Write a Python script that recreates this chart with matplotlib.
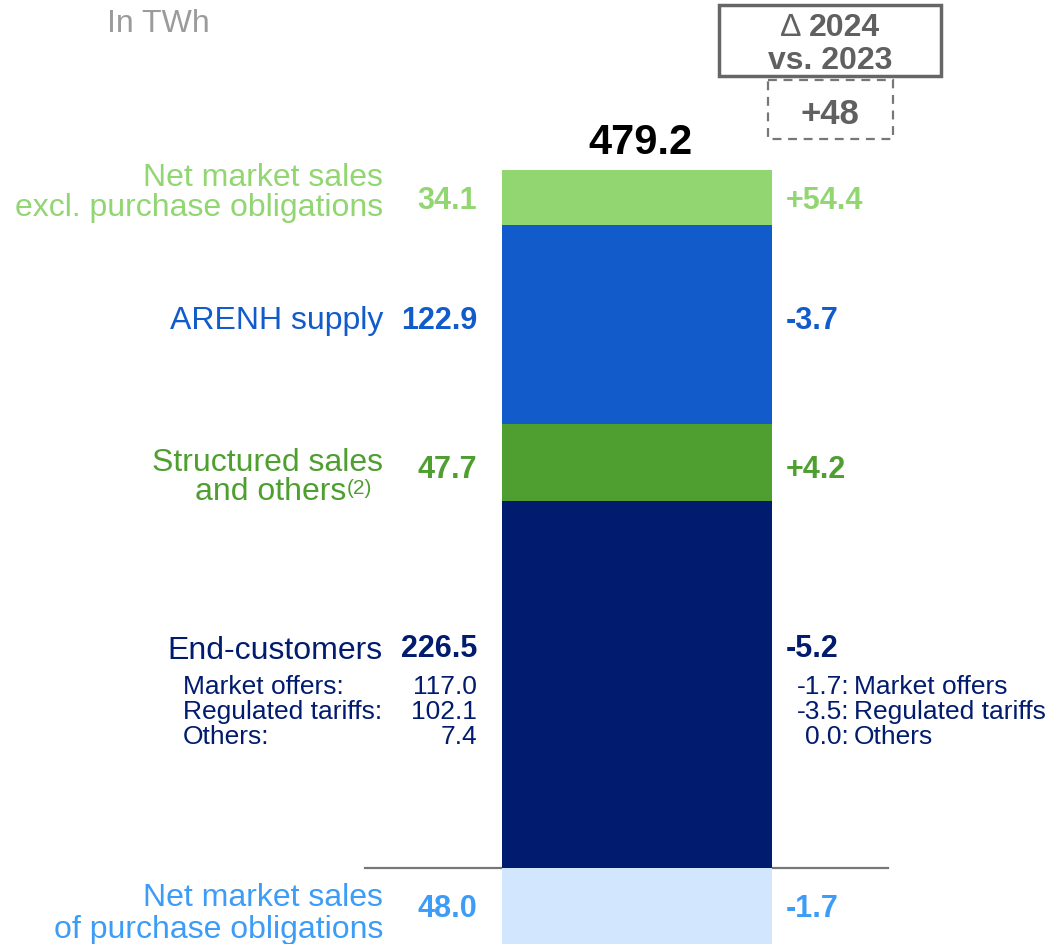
import matplotlib
matplotlib.use("Agg")
import matplotlib.pyplot as plt
from matplotlib.patches import Rectangle

plt.rcParams['font.family'] = ['Liberation Sans', 'DejaVu Sans']

# ---- data (bottom to top of the stacked bar) ----
categories = ["Net market sales\nof purchase obligations", "End-customers",
              "Structured sales\nand others", "ARENH supply",
              "Net market sales\nexcl. purchase obligations"]
footnotes = ["", "", "(2)", "", ""]
values = [48.0, 226.5, 47.7, 122.9, 34.1]
deltas = ["-1.7", "-5.2", "+4.2", "-3.7", "+54.4"]
total = 479.2
total_delta = "+48"
unit_label = "In TWh"
delta_symbol = "\u2206"
delta_header = ["2024", "vs. 2023"]

end_sub_labels = ["Market offers:", "Regulated tariffs:", "Others:"]
end_sub_values = [117.0, 102.1, 7.4]
end_sub_deltas = [-1.7, -3.5, 0.0]
end_sub_names = ["Market offers", "Regulated tariffs", "Others"]

bar_colors = ["#D2E7FD", "#011B6E", "#4E9F30", "#115BCB", "#92D672"]
text_colors = ["#3D9CF6", "#011B6E", "#4E9F30", "#115BCB", "#92D672"]

# ---- figure ----
W, H = 1056, 944
fig = plt.figure(figsize=(W / 100, H / 100), dpi=100)

# data axes: y in TWh; first segment sits below the baseline (0)
scale = 698 / 431.2          # px per TWh
base_px = 868
ax = fig.add_axes([0, 0, 1, 1])
ax.set_xlim(0, W)
ax.set_ylim(-(H - base_px) / scale, base_px / scale)
ax.axis("off")

bottoms = [-values[0]]
for v in values[:-1]:
    bottoms.append(bottoms[-1] + v)
ax.bar([637] * len(values), values, width=270, bottom=bottoms,
       color=bar_colors, linewidth=0, zorder=2)
ax.plot([365, 888], [0, 0], color="#777777", lw=1.6, zorder=1)

# overlay axes in pixel coordinates for annotations
ov = fig.add_axes([0, 0, 1, 1])
ov.set_xlim(0, W)
ov.set_ylim(H, 0)
ov.axis("off")
ov.patch.set_alpha(0)

dy = 3  # compensate matplotlib's bbox-centred alignment

# label positions (pixel y of line centres)
label_y = [(895, 927), (648,), (460, 489), (318,), (175, 205)]
value_y = [906, 646, 467, 318, 198]

for i, cat in enumerate(categories):
    lines = cat.split("\n")
    for ln, y in zip(lines, label_y[i]):
        t = ov.text(383, y + dy, ln, ha="right", va="center", fontsize=23,
                    color=text_colors[i])
    if footnotes[i]:
        t.set_x(346)
        ov.text(347, label_y[i][-1] - 3 + dy, footnotes[i], ha="left",
                va="center", fontsize=15, color=text_colors[i])
    ov.text(477, value_y[i] + dy, f"{values[i]:.1f}", ha="right", va="center",
            fontsize=22, fontweight="bold", color=text_colors[i])
    ov.text(786, value_y[i] + dy, deltas[i], ha="left", va="center",
            fontsize=22, fontweight="bold", color=text_colors[i])

# end-customer breakdown
sub_y = [684, 709, 734]
for lab, val, dv, nm, y in zip(end_sub_labels, end_sub_values, end_sub_deltas,
                               end_sub_names, sub_y):
    ov.text(183, y + dy, lab, ha="left", va="center", fontsize=19,
            color="#011B6E")
    ov.text(477, y + dy, f"{val:.1f}", ha="right", va="center", fontsize=19,
            color="#011B6E")
    ov.text(849, y + dy, f"{dv:.1f}:", ha="right", va="center", fontsize=19,
            color="#011B6E")
    ov.text(854, y + dy, nm, ha="left", va="center", fontsize=19,
            color="#011B6E")

# total
ov.text(640, 140 + dy, f"{total:.1f}", ha="center", va="center", fontsize=30,
        fontweight="bold", color="black")

# unit label
ov.text(107, 21 + dy, unit_label, ha="left", va="center", fontsize=23,
        color="#9B9B9B")

# delta header box
ov.add_patch(Rectangle((719, 5), 222, 71, fill=False, edgecolor="#666666",
                       lw=2.5))
ov.text(801, 25 + dy, delta_symbol, ha="right", va="center", fontsize=23,
        color="#606060")
ov.text(809, 25 + dy, delta_header[0], ha="left", va="center", fontsize=23,
        fontweight="bold", color="#606060")
ov.text(830, 58 + dy, delta_header[1], ha="center", va="center", fontsize=23,
        fontweight="bold", color="#606060")
ov.add_patch(Rectangle((768, 80), 125, 59, fill=False, edgecolor="#777777",
                       lw=1.6, linestyle=(0, (4, 3))))
ov.text(830, 111 + dy, total_delta, ha="center", va="center", fontsize=25,
        fontweight="bold", color="#606060")

fig.savefig("out.png", dpi=100)
